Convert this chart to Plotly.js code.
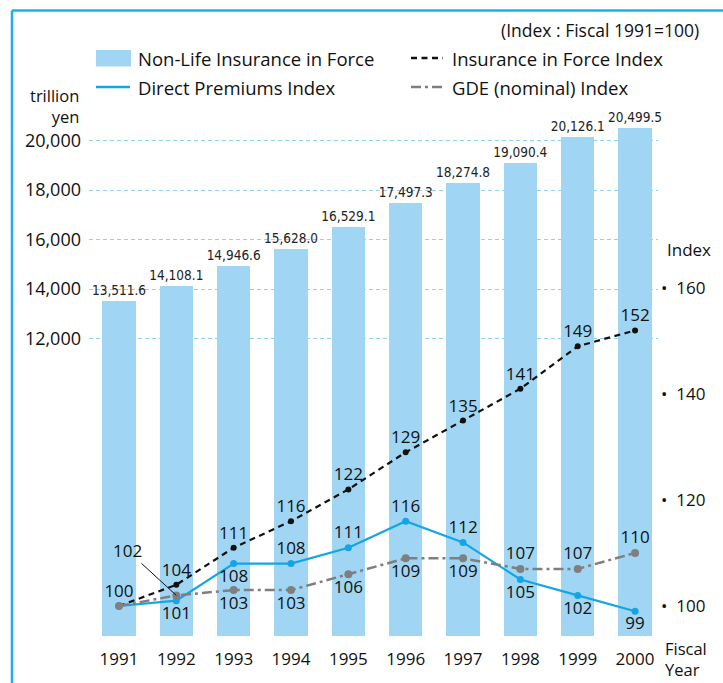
<!DOCTYPE html>
<html>
<head>
<meta charset="utf-8">
<script src="https://cdn.plot.ly/plotly-3.0.1.min.js"></script>
<style>
  html, body { margin: 0; padding: 0; background: #fff; }
  #chart { width: 723px; height: 683px; }
</style>
</head>
<body>
<div id="chart"></div>
<script>
// ---- data ----
var years = [1991, 1992, 1993, 1994, 1995, 1996, 1997, 1998, 1999, 2000];
var insuranceInForce = [13511.6, 14108.1, 14946.6, 15628.0, 16529.1, 17497.3, 18274.8, 19090.4, 20126.1, 20499.5];
var insuranceIndex = [100, 104, 111, 116, 122, 129, 135, 141, 149, 152];
var premiumsIndex = [100, 101, 108, 108, 111, 116, 112, 105, 102, 99];
var gdeIndex = [100, 102, 103, 103, 106, 109, 109, 107, 107, 110];
var leftTicks = [12000, 14000, 16000, 18000, 20000];
var rightTicks = [100, 120, 140, 160];

// ---- layout geometry (pixels) ----
var W = 723, H = 683;
var L = 89, R = 658, T = 120, B = 636;
function px(x) { return (x - L) / (R - L); }
function py(y) { return (B - y) / (B - T); }

var FONT = 'Open Sans, Noto Sans, sans-serif';
var NARROW = 'DejaVu Sans Condensed, Liberation Sans Narrow, sans-serif';
var BAR_COLOR = '#a0d6f3';
var BLUE = '#14a5e6';
var GRAY = '#7f7f7f';
var FRAME = '#1ab0ef';

// label positions
var insPos = years.map(function () { return 'top center'; });
var insText = insuranceIndex.map(String);
var premPos = ['top center', 'bottom center', 'bottom center', 'top center', 'top center',
               'top center', 'top center', 'bottom center', 'bottom center', 'bottom center'];
var premText = premiumsIndex.map(function (v, i) { return i === 0 ? '' : String(v); });
var gdePos = ['bottom center', 'bottom center', 'bottom center', 'bottom center', 'bottom center',
              'bottom center', 'bottom center', 'top center', 'top center', 'top center'];
var gdeText = gdeIndex.map(function (v, i) { return (i === 0 || i === 1) ? '' : String(v); });

var traces = [
  {
    type: 'bar', x: years, y: insuranceInForce, width: 0.58,
    marker: { color: BAR_COLOR },
    text: insuranceInForce.map(function (v) { return v.toLocaleString('en-US', { minimumFractionDigits: 1, maximumFractionDigits: 1 }); }),
    textposition: 'outside', cliponaxis: false, constraintext: 'none',
    textfont: { family: NARROW, size: 13.5, color: '#222' },
    hoverinfo: 'skip', showlegend: false
  },
  {
    type: 'scatter', mode: 'lines+markers+text', x: years, y: insuranceIndex, yaxis: 'y2',
    line: { color: '#111', width: 2.2, dash: '6px,4.5px' },
    marker: { color: '#111', size: 6 },
    text: insText, textposition: insPos,
    textfont: { family: FONT, size: 17, color: '#111' },
    cliponaxis: false, showlegend: false
  },
  {
    type: 'scatter', mode: 'lines+markers+text', x: years, y: premiumsIndex, yaxis: 'y2',
    line: { color: BLUE, width: 2.2 },
    marker: { color: BLUE, size: 7 },
    text: premText, textposition: premPos,
    textfont: { family: FONT, size: 17, color: '#111' },
    cliponaxis: false, showlegend: false
  },
  {
    type: 'scatter', mode: 'lines+markers+text', x: years, y: gdeIndex, yaxis: 'y2',
    line: { color: GRAY, width: 2.5, dash: '10px,4px,3px,4px' },
    marker: { color: GRAY, size: 8 },
    text: gdeText, textposition: gdePos,
    textfont: { family: FONT, size: 17, color: '#111' },
    cliponaxis: false, showlegend: false
  }
];

var shapes = [
  // frame
  { type: 'line', xref: 'paper', yref: 'paper', x0: px(12), x1: 2, y0: py(10.5), y1: py(10.5), line: { color: FRAME, width: 2.5 } },
  { type: 'line', xref: 'paper', yref: 'paper', x0: px(12), x1: px(12), y0: py(10.5), y1: -1, line: { color: FRAME, width: 2.5 } },
  // legend swatches
  { type: 'rect', xref: 'paper', yref: 'paper', x0: px(96), x1: px(131), y0: py(66.5), y1: py(50), fillcolor: BAR_COLOR, line: { width: 0 } },
  { type: 'line', xref: 'paper', yref: 'paper', x0: px(96), x1: px(130), y0: py(87), y1: py(87), line: { color: BLUE, width: 2.5 } },
  { type: 'line', xref: 'paper', yref: 'paper', x0: px(411), x1: px(443), y0: py(58), y1: py(58), line: { color: '#111', width: 2.5, dash: '6px,4.5px' } },
  { type: 'line', xref: 'paper', yref: 'paper', x0: px(411), x1: px(443), y0: py(87), y1: py(87), line: { color: GRAY, width: 2.5, dash: '10px,4px,3px,4px' } }
];

function txt(text, x, y, anchor, size, align) {
  return { text: text, xref: 'paper', yref: 'paper', x: px(x), y: py(y), xanchor: anchor, yanchor: 'middle',
           align: align || 'left', showarrow: false, font: { family: FONT, size: size || 17, color: '#111' } };
}

var annotations = [
  txt('(Index : Fiscal 1991=100)', 701, 30, 'right', 17.5),
  txt('Non-Life Insurance in Force', 136, 58, 'left', 18.5),
  txt('Direct Premiums Index', 136, 87, 'left', 18.5),
  txt('Insurance in Force Index', 450, 58, 'left', 18.5),
  txt('GDE (nominal) Index', 450, 87, 'left', 18.5),
  txt('trillion<br>yen', 81, 106, 'right', 16.5, 'right'),
  txt('Index', 665, 249, 'left', 17),
  txt('Fiscal<br>Year', 663, 659, 'left', 16.5),
  {
    x: years[1], y: gdeIndex[1], xref: 'x', yref: 'y2', text: String(gdeIndex[1]),
    showarrow: true, arrowhead: 0, arrowwidth: 1, arrowcolor: '#111', standoff: 0,
    ax: -49, ay: -45, font: { family: FONT, size: 17, color: '#111' }
  }
];

var layout = {
  width: W, height: H,
  margin: { l: L, r: W - R, t: T, b: H - B, pad: 0 },
  paper_bgcolor: '#fff', plot_bgcolor: 'rgba(0,0,0,0)',
  showlegend: false,
  bargap: 0,
  font: { family: FONT, size: 17, color: '#111' },
  xaxis: {
    range: [years[0] - 0.523, years[years.length - 1] + 0.40],
    tickvals: years, ticktext: years.map(String),
    showgrid: false, zeroline: false, showline: false, ticks: '', ticklabelstandoff: 11,
    tickfont: { family: FONT, size: 17, color: '#111' }
  },
  yaxis: {
    range: [0, 20828],
    tickvals: leftTicks, ticktext: leftTicks.map(function (v) { return v.toLocaleString('en-US'); }),
    showgrid: true, gridcolor: '#8fd3f2', griddash: '4px,3px', gridwidth: 1,
    zeroline: false, showline: false, ticks: '', ticklabelstandoff: 7,
    tickfont: { family: FONT, size: 18, color: '#111' }
  },
  yaxis2: {
    overlaying: 'y', side: 'right',
    range: [100 - 30 / 5.3, 100 + 486 / 5.3],
    tickvals: rightTicks, ticktext: rightTicks.map(function (v) { return '\u2022\u00a0\u00a0' + v; }),
    showgrid: false, zeroline: false, showline: false, ticks: '', ticklabelstandoff: 2,
    tickfont: { family: FONT, size: 17, color: '#111' }
  },
  shapes: shapes,
  annotations: annotations
};

Plotly.newPlot('chart', traces, layout, { displayModeBar: false, staticPlot: true });
</script>
</body>
</html>
